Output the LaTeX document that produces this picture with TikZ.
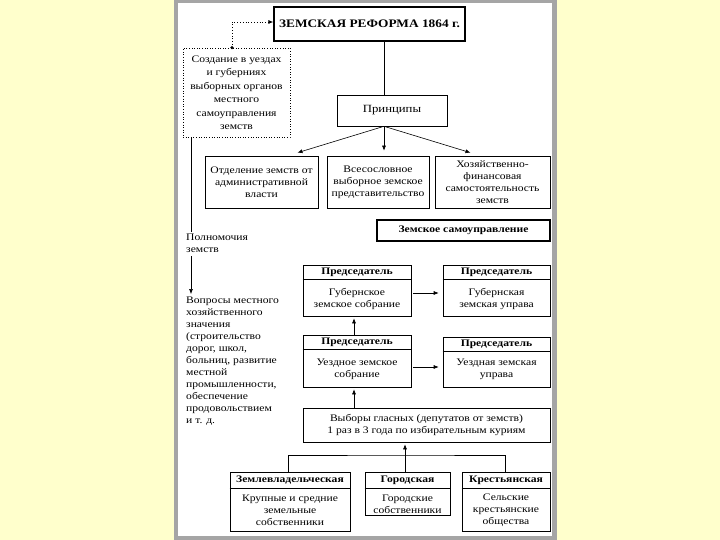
\documentclass[tikz,border=0pt]{standalone}
\usepackage{fontspec}
\setmainfont[FakeStretch=1.16]{Liberation Serif}
\usetikzlibrary{arrows.meta}
\newcommand\dfont{\fontsize{10}{12}\selectfont}
\newcommand\hfont{\fontsize{10}{12}\selectfont\bfseries}
\definecolor{bgyellow}{RGB}{255,255,204}
\definecolor{framegray}{RGB}{165,165,165}
\begin{document}
\begin{tikzpicture}[x=1pt,y=-1pt,
  box/.style={draw, line width=0.6pt, inner sep=0pt, fill=white, align=center, font=\dfont},
  txt/.style={inner sep=0pt, align=center, font=\dfont},
  hd/.style={inner sep=0pt, align=center, font=\hfont},
  ltxt/.style={inner sep=0pt, align=left, anchor=north west, font=\dfont},
  conn/.style={line width=0.6pt},
  arr/.style={line width=0.6pt, -{Latex[length=5pt,width=4pt]}},
  dotarr/.style={line width=0.8pt, dotted, -{Latex[length=5pt,width=4pt]}}
]
\useasboundingbox (0,0) rectangle (720,540);
\fill[bgyellow] (0,0) rectangle (720,540);
\fill[framegray] (174,0) rectangle (557,540);
\fill[white] (178,3) rectangle (552,536);

% top
\node[box, line width=1.2pt, minimum width=191, minimum height=34, font=\fontsize{11.5}{13}\selectfont\bfseries] (title) at (369.5,24) {ЗЕМСКАЯ РЕФОРМА 1864 г.};
\node[box, dotted, line width=0.8pt, minimum width=107, minimum height=89, font=\fontsize{10}{13.5}\selectfont] (dz) at (236.5,92.5) {Создание в уездах\\и губерниях\\выборных органов\\местного\\самоуправления\\земств};
\node[box, minimum width=110, minimum height=31, font=\fontsize{11}{13}\selectfont] (pr) at (392,110.5) {Принципы};

\node[box, minimum width=113, minimum height=52] (b1) at (261.5,182) {Отделение земств от\\административной\\власти};
\node[box, minimum width=102, minimum height=52] (b2) at (378,182) {Всесословное\\выборное земское\\представительство};
\node[box, minimum width=115, minimum height=52] (b3) at (492.5,182) {Хозяйственно-\\финансовая\\самостоятельность\\земств};

\node[box, line width=1.1pt, minimum width=173, minimum height=21, font=\hfont] (zs) at (463.5,230.5) {Земское самоуправление};

% left column
\node[ltxt] (pol) at (186,234) {Полномочия\\земств};
\node[ltxt] (vop) at (186,297) {Вопросы местного\\хозяйственного\\значения\\(строительство\\дорог, школ,\\больниц, развитие\\местной\\промышленности,\\обеспечение\\продовольствием\\и т. д.};

% chairman boxes
\node[box, minimum width=108, minimum height=51] (gs) at (357,290.5) {};
\node[box, minimum width=107, minimum height=51] (gu) at (496.5,290.5) {};
\node[box, minimum width=108, minimum height=52] (us) at (357,361) {};
\node[box, minimum width=107, minimum height=50] (uu) at (496.5,362) {};
\foreach \b in {gs,gu,us,uu}{
  \draw[conn] ([yshift=-15pt]\b.north west) -- ([yshift=-15pt]\b.north east);
}
\node[hd] (gsh) at ([yshift=-7.5pt]gs.north) {Председатель};
\node[hd] (guh) at ([yshift=-7.5pt]gu.north) {Председатель};
\node[hd] (ush) at ([yshift=-7.5pt]us.north) {Председатель};
\node[hd] (uuh) at ([yshift=-7.5pt]uu.north) {Председатель};
\node[txt] (gst) at (357,299) {Губернское\\земское собрание};
\node[txt] (gut) at (496.5,299) {Губернская\\земская управа};
\node[txt] (ust) at (357,369) {Уездное земское\\собрание};
\node[txt] (uut) at (496.5,369) {Уездная земская\\управа};

% elections
\node[box, minimum width=247, minimum height=34] (vy) at (426.5,425) {Выборы гласных (депутатов от земств)\\1 раз в 3 года по избирательным куриям};

% curiae
\node[box, minimum width=120, minimum height=59] (k1) at (290,501.5) {};
\node[box, minimum width=85, minimum height=43] (k2) at (407.5,493.5) {};
\node[box, minimum width=88, minimum height=59] (k3) at (506,501.5) {};
\foreach \b in {k1,k2,k3}{
  \draw[conn] ([yshift=-17pt]\b.north west) -- ([yshift=-17pt]\b.north east);
}
\node[hd] (k1h) at ([yshift=-8.5pt]k1.north) {Землевладельческая};
\node[hd] (k2h) at ([yshift=-8.5pt]k2.north) {Городская};
\node[hd] (k3h) at ([yshift=-8.5pt]k3.north) {Крестьянская};
\node[txt] (k1t) at (290,510) {Крупные и средние\\земельные\\собственники};
\node[txt] (k2t) at (407.5,504) {Городские\\собственники};
\node[txt] (k3t) at (506,510) {Сельские\\крестьянские\\общества};

% coordinates
\coordinate (cx) at (384,0);
\coordinate (lx) at (191,0);
\coordinate (ax) at (354,0);
\coordinate (hj) at (405,455);

% connectors
\fill ([xshift=-4.5pt]dz.north) circle (1.8pt);
\draw[dotarr] ([xshift=-4.5pt]dz.north) |- ([yshift=2pt]title.west);
\draw[conn] (title.south -| cx) -- (pr.north -| cx);
\draw[arr] (pr.south -| cx) -- ([xshift=36pt,yshift=3pt]b1.north);
\draw[arr] (pr.south -| cx) -- ([yshift=5pt]b2.north -| cx);
\draw[arr] (pr.south -| cx) -- ([xshift=-22pt,yshift=3pt]b3.north);
\draw[conn] (dz.south -| lx) -- ([yshift=2pt]pol.north -| lx);
\draw[arr] ([yshift=-3pt]pol.south -| lx) -- ([yshift=3pt]vop.north -| lx);
\draw[arr, shorten <=2pt, shorten >=4pt] ([yshift=-2.5pt]gs.east) -- ([yshift=-2.5pt]gs.east -| gu.west);
\draw[arr, shorten <=2pt, shorten >=4pt] ([yshift=-6pt]us.east) -- ([yshift=-6pt]us.east -| uu.west);
\draw[arr, shorten >=2pt] (us.north -| ax) -- (gs.south -| ax);
\draw[arr, shorten >=2pt] (vy.north -| ax) -- (us.south -| ax);
\draw[conn] ([xshift=-2pt]k1.north) |- (hj) -| ([xshift=-1pt]k3.north);
\draw[arr, shorten >=2pt] (k2.north -| hj) -- (vy.south -| hj);
\end{tikzpicture}
\end{document}
